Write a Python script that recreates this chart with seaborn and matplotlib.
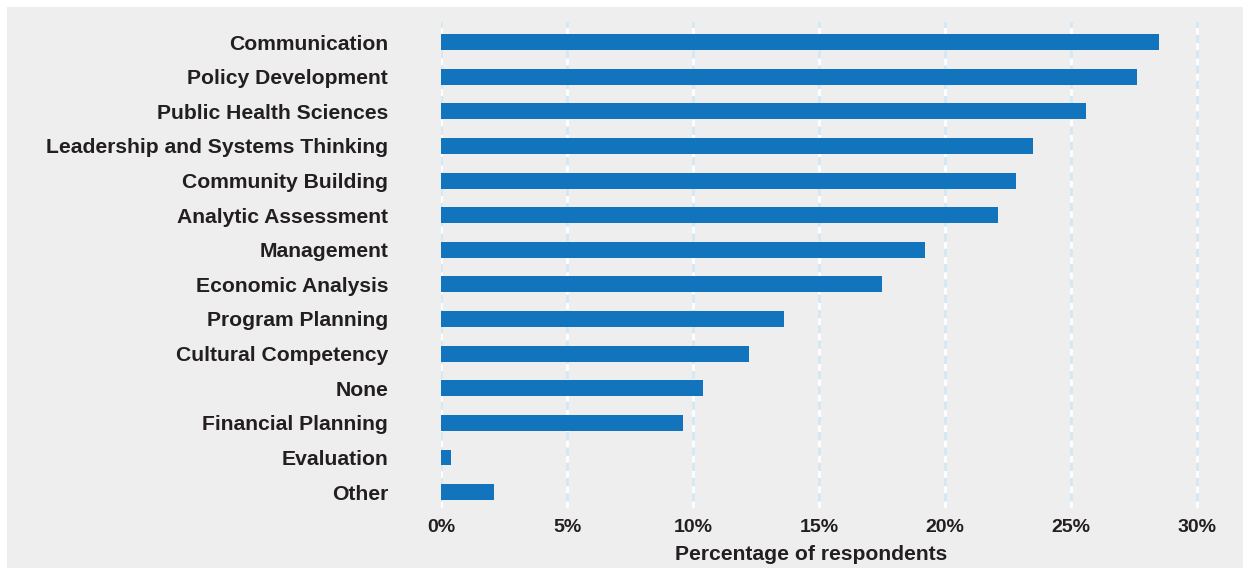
import matplotlib
matplotlib.use("Agg")
import matplotlib.pyplot as plt
import seaborn as sns
import pandas as pd
from matplotlib.patches import Rectangle
from matplotlib.ticker import FuncFormatter

competencies = [
    "Communication", "Policy Development", "Public Health Sciences",
    "Leadership and Systems Thinking", "Community Building",
    "Analytic Assessment", "Management", "Economic Analysis",
    "Program Planning", "Cultural Competency", "None",
    "Financial Planning", "Evaluation", "Other",
]
percent = [28.5, 27.6, 25.6, 23.5, 22.8, 22.1, 19.2, 17.5, 13.6, 12.2, 10.4, 9.6, 0.4, 2.1]
x_ticks = [0, 5, 10, 15, 20, 25, 30]

df = pd.DataFrame({"competency": competencies, "percent": percent})

BG = "#eeeeee"
BAR = "#1174bc"
TEXT = "#231f20"

sns.set_theme(style="white")
plt.rcParams["font.family"] = ["Liberation Sans", "DejaVu Sans"]

fig = plt.figure(figsize=(12.49, 5.75), dpi=100, facecolor="white")
# grey panel behind everything
fig.add_artist(Rectangle((7 / 1249, 7 / 575), 1236 / 1249, 561 / 575,
                         transform=fig.transFigure, facecolor=BG,
                         edgecolor="none", zorder=-10))

ax = fig.add_axes([441 / 1249, 67 / 575, 799 / 1249, 486 / 575])
ax.set_facecolor(BG)
ax.set_zorder(1)

sns.barplot(data=df, y="competency", x="percent", orient="h",
            color=BAR, width=0.46, saturation=1, linewidth=0, ax=ax, zorder=3)

for t in x_ticks:
    ax.axvline(t, color="#d4e8f4", linewidth=2.0, zorder=1)
    ax.axvline(t, color="white", linewidth=2.0, linestyle=(0, (2.5, 3)), zorder=2)

ax.set_xlim(0, 31.7)
ax.set_ylim(13.46, -0.58)
ax.set_xticks(x_ticks)
ax.xaxis.set_major_formatter(FuncFormatter(lambda v, p: f"{v:.0f}%"))

for s in ax.spines.values():
    s.set_visible(False)

ax.tick_params(axis="y", length=0, pad=38, labelsize=15.2, labelcolor=TEXT)
ax.tick_params(axis="x", length=0, pad=8, labelsize=14, labelcolor=TEXT)
for lab in ax.get_yticklabels() + ax.get_xticklabels():
    lab.set_fontweight("bold")

ax.set_ylabel("")
ax.set_xlabel("Percentage of respondents", fontsize=15.2, fontweight="bold",
              color=TEXT)
ax.xaxis.set_label_coords(0.463, -0.076)

fig.savefig("out.png", dpi=100, facecolor="white")
